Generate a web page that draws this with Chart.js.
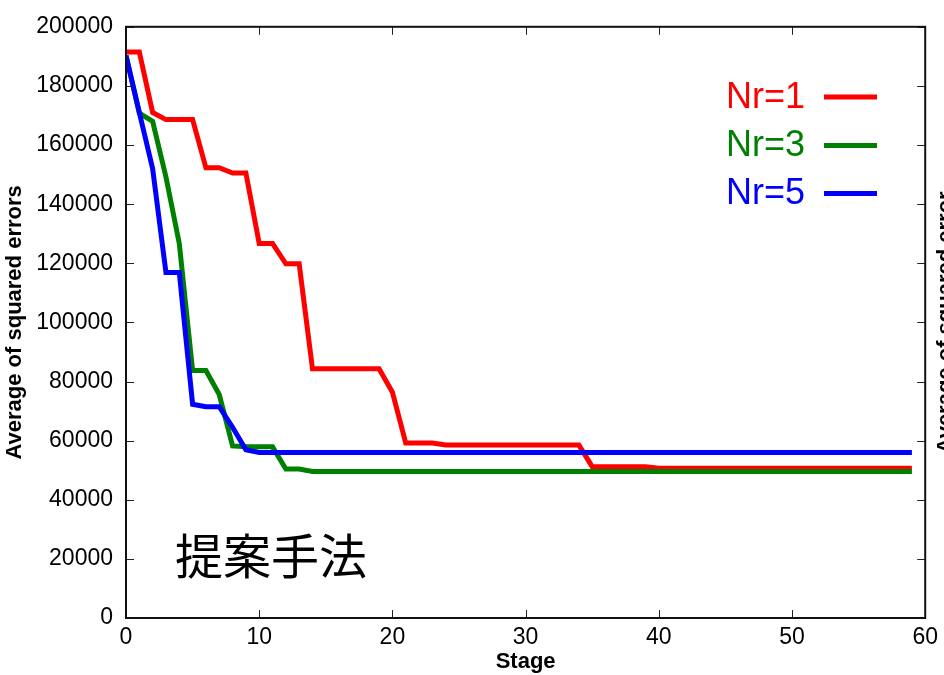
<!DOCTYPE html>
<html>
<head>
<meta charset="utf-8">
<script src="https://cdn.jsdelivr.net/npm/chart.js@4/dist/chart.umd.min.js"></script>
<style>
  html, body { margin: 0; padding: 0; background: #fff; }
  #wrap { width: 944px; height: 675px; position: relative; overflow: hidden; }
</style>
</head>
<body>
<div id="wrap"><canvas id="chart" width="944" height="675"></canvas></div>
<script>
// stage index 0..59
const stages = Array.from({ length: 60 }, (_, i) => i);

const nr1 = [191500, 191500, 171000, 168600, 168600, 168600, 152300, 152300, 150500, 150500,
    126700, 126700, 119800, 119800, 84300, 84300, 84300, 84300, 84300, 84300,
    76400, 59200, 59200, 59200, 58500, 58500, 58500, 58500, 58500, 58500,
    58500, 58500, 58500, 58500, 58500, 51200, 51200, 51200, 51200, 51200,
    50700, 50700, 50700, 50700, 50700, 50700, 50700, 50700, 50700, 50700,
    50700, 50700, 50700, 50700, 50700, 50700, 50700, 50700, 50700, 50700];

const nr3 = [190300, 170800, 168000, 149200, 126700, 83700, 83700, 75600, 58200, 57900,
    57900, 57900, 50400, 50400, 49600, 49600, 49600, 49600, 49600, 49600,
    49600, 49600, 49600, 49600, 49600, 49600, 49600, 49600, 49600, 49600,
    49600, 49600, 49600, 49600, 49600, 49600, 49600, 49600, 49600, 49600,
    49600, 49600, 49600, 49600, 49600, 49600, 49600, 49600, 49600, 49600,
    49600, 49600, 49600, 49600, 49600, 49600, 49600, 49600, 49600, 49600];

const nr5 = [190300, 171000, 152000, 116900, 116900, 72300, 71500, 71500, 64500, 56900,
    56000, 56000, 56000, 56000, 56000, 56000, 56000, 56000, 56000, 56000,
    56000, 56000, 56000, 56000, 56000, 56000, 56000, 56000, 56000, 56000,
    56000, 56000, 56000, 56000, 56000, 56000, 56000, 56000, 56000, 56000,
    56000, 56000, 56000, 56000, 56000, 56000, 56000, 56000, 56000, 56000,
    56000, 56000, 56000, 56000, 56000, 56000, 56000, 56000, 56000, 56000];

const seriesNames = ["Nr=1", "Nr=3", "Nr=5"];
const seriesColors = ["#ff0000", "#008000", "#0000ff"];
const xTicks = [0, 10, 20, 30, 40, 50, 60];
const yTicks = [0, 20000, 40000, 60000, 80000, 100000, 120000, 140000, 160000, 180000, 200000];

const FONT = "'Liberation Sans', Arial, sans-serif";

function toPoints(values) {
    return values.map((v, i) => ({ x: stages[i], y: v }));
}

// box, inward ticks, legend and annotation text
const framePlugin = {
    id: "frame",
    afterDraw(chart) {
        const ctx = chart.ctx;
        const area = chart.chartArea;
        const xs = chart.scales.x;
        const ys = chart.scales.y;
        ctx.save();

        ctx.strokeStyle = "#222";
        ctx.lineWidth = 1;
        xTicks.forEach(v => {
            const px = Math.round(xs.getPixelForValue(v)) + 0.5;
            ctx.beginPath();
            ctx.moveTo(px, area.bottom);
            ctx.lineTo(px, area.bottom - 8);
            ctx.moveTo(px, area.top);
            ctx.lineTo(px, area.top + 8);
            ctx.stroke();
        });
        yTicks.forEach(v => {
            const py = Math.round(ys.getPixelForValue(v)) + 0.5;
            ctx.beginPath();
            ctx.moveTo(area.left, py);
            ctx.lineTo(area.left + 8, py);
            ctx.moveTo(area.right, py);
            ctx.lineTo(area.right - 8, py);
            ctx.stroke();
        });

        ctx.strokeStyle = "#111";
        ctx.lineWidth = 2;
        ctx.strokeRect(area.left, area.top, area.right - area.left, area.bottom - area.top);

        // legend
        const legendY = [97, 145.5, 193.5];
        ctx.font = "36px " + FONT;
        ctx.textAlign = "left";
        ctx.textBaseline = "middle";
        seriesNames.forEach((name, i) => {
            ctx.fillStyle = seriesColors[i];
            ctx.fillText(name, 726, legendY[i] + 1);
            ctx.strokeStyle = seriesColors[i];
            ctx.lineWidth = 5;
            ctx.beginPath();
            ctx.moveTo(824, legendY[i]);
            ctx.lineTo(877, legendY[i]);
            ctx.stroke();
        });

        // method label
        ctx.fillStyle = "#000";
        ctx.font = "48px 'Noto Sans CJK JP', sans-serif";
        ctx.textBaseline = "middle";
        ctx.fillText("提案手法", 175, 556);

        // title of the neighbouring panel, cut at the edge
        ctx.translate(946, (area.top + area.bottom) / 2);
        ctx.rotate(-Math.PI / 2);
        ctx.font = "bold 22px " + FONT;
        ctx.textAlign = "center";
        ctx.textBaseline = "middle";
        ctx.fillText("Average of squared error", 0, 0);

        ctx.restore();
    }
};

new Chart(document.getElementById("chart").getContext("2d"), {
    type: "line",
    data: {
        datasets: [
            { label: seriesNames[0], data: toPoints(nr1), borderColor: seriesColors[0], order: 2 },
            { label: seriesNames[1], data: toPoints(nr3), borderColor: seriesColors[1], order: 1 },
            { label: seriesNames[2], data: toPoints(nr5), borderColor: seriesColors[2], order: 0 }
        ]
    },
    options: {
        responsive: false,
        animation: false,
        devicePixelRatio: 1,
        layout: { padding: { left: 0, right: 18, top: 24, bottom: 0 } },
        elements: {
            line: { borderWidth: 5, tension: 0, fill: false },
            point: { radius: 0, hoverRadius: 0 }
        },
        plugins: {
            legend: { display: false },
            tooltip: { enabled: false }
        },
        scales: {
            x: {
                type: "linear",
                min: 0,
                max: 60,
                grid: { display: false, drawTicks: false },
                border: { display: false },
                afterFit(scale) { scale.height = 57; },
                afterBuildTicks(scale) { scale.ticks = xTicks.map(v => ({ value: v })); },
                ticks: {
                    padding: 6,
                    color: "#000",
                    font: { family: FONT, size: 23 },
                    maxRotation: 0,
                    callback: v => String(v)
                },
                title: {
                    display: true,
                    text: "Stage",
                    color: "#000",
                    font: { family: FONT, size: 22, weight: "bold" },
                    padding: { top: 0, bottom: 0 }
                }
            },
            y: {
                min: 0,
                max: 200000,
                grid: { display: false, drawTicks: false },
                border: { display: false },
                afterFit(scale) { scale.width = 126; },
                afterBuildTicks(scale) { scale.ticks = yTicks.map(v => ({ value: v })); },
                ticks: {
                    padding: 13,
                    color: "#000",
                    font: { family: FONT, size: 23 },
                    callback: v => String(v)
                },
                title: {
                    display: true,
                    text: "Average of squared errors",
                    color: "#000",
                    font: { family: FONT, size: 22, weight: "bold" },
                    padding: { top: 2, bottom: 0 }
                }
            }
        }
    },
    plugins: [framePlugin]
});
</script>
</body>
</html>
